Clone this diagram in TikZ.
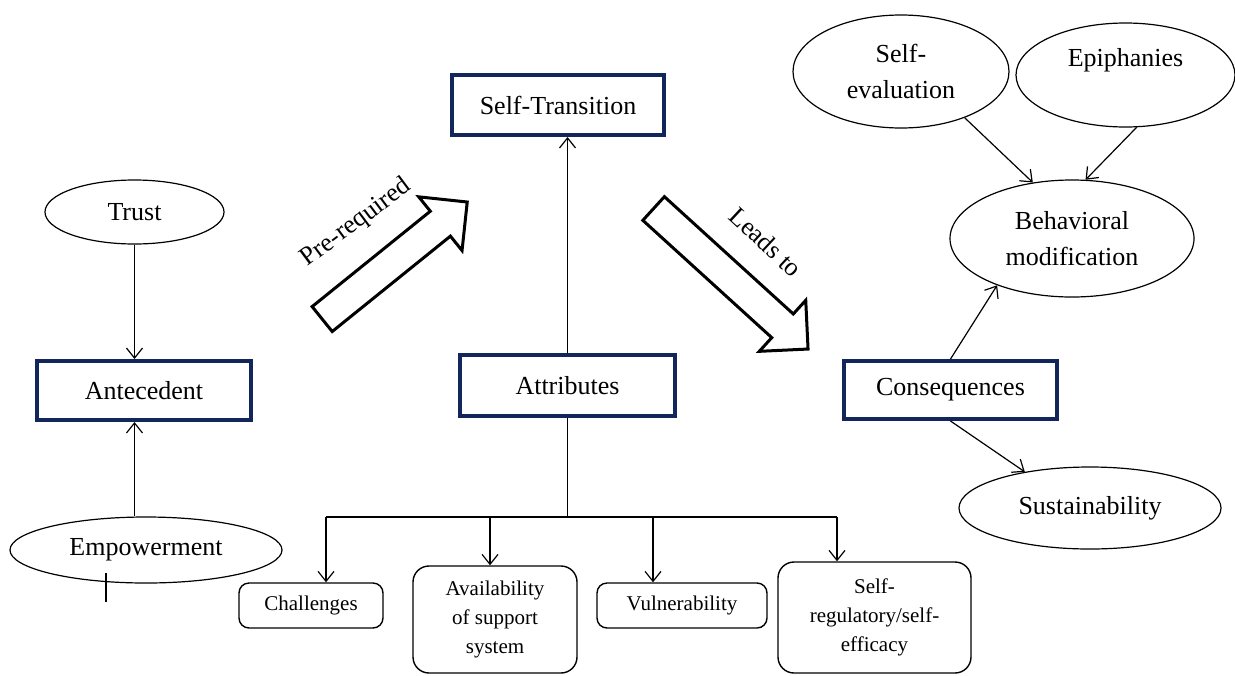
\documentclass[tikz,border=0pt]{standalone}
\usepackage{fontspec}
\setmainfont{Liberation Serif}
\usepackage{tikz}
\usetikzlibrary{shapes,arrows.meta}
\definecolor{framenavy}{RGB}{18,38,92}

\tikzset{
  mainbox/.style={draw=framenavy,line width=2pt,inner sep=2pt,font=\fontsize{13}{18}\selectfont},
  oval/.style={ellipse,draw,line width=0.6pt,inner sep=0pt,align=center,font=\fontsize{13}{18}\selectfont},
  subbox/.style={draw,rounded corners=5pt,line width=0.7pt,inner sep=1pt,align=center,font=\fontsize{10.5}{14.5}\selectfont},
  blockarrow/.style={single arrow,draw,line width=1.5pt,anchor=tail,inner xsep=0pt,inner ysep=7.25pt,
    single arrow head extend=9.25pt,single arrow tip angle=90},
  arrowlabel/.style={font=\fontsize{13}{18}\selectfont,inner sep=0pt},
  link/.style={->,line width=0.6pt}
}

\begin{document}
\begin{tikzpicture}[x=0.5pt,y=-0.5pt,>={Straight Barb[length=5pt,width=8pt]}]
\useasboundingbox (0,0) rectangle (1235,675);

% left column
\node[oval,minimum width=89.5pt,minimum height=32pt] (trust) at (134.5,212) {Trust};
\node[mainbox,minimum width=107pt,minimum height=29.5pt] (antecedent) at (144,390.5) {Antecedent};
\node[oval,minimum width=136pt,minimum height=33pt] (empower) at (146,550) {Empowerment};
\draw[link] (trust.south) -- (trust.south |- antecedent.north);
\draw[link] (trust.south |- empower.north) -- (trust.south |- antecedent.south);
\draw[line width=0.6pt] (106,573) -- (106,602);

% centre column
\node[mainbox,minimum width=106pt,minimum height=30pt] (transition) at (558,105) {Self-Transition};
\node[mainbox,minimum width=107.5pt,minimum height=30.5pt] (attributes) at (567.5,385.5) {Attributes};
\draw[link] (attributes.north) -- (attributes.north |- transition.south);

\node[subbox,minimum width=72pt,minimum height=22.5pt] (challenges) at (311,605.5) {Challenges};
\node[subbox,rounded corners=8pt,minimum width=82pt,minimum height=53.5pt] (support) at (495,619.5) {Availability\\of support\\system};
\node[subbox,minimum width=85pt,minimum height=22.5pt] (vulner) at (682,605.5) {Vulnerability};
\node[subbox,rounded corners=8pt,minimum width=96.5pt,minimum height=55.5pt] (selfreg) at (874.5,617.5) {Self-\\regulatory/self-\\efficacy};

\coordinate (busleft) at (326,517);
\coordinate (busright) at (837,517);
\draw[line width=0.6pt] (attributes.south) -- (attributes.south |- busleft);
\draw[line width=0.6pt] (busleft) -- (busright);
\foreach \x/\target in {326/challenges,490/support,653/vulner,837/selfreg}
  \draw[link] (\x,517) -- (\x,517 |- \target.north);

% block arrows
\node[blockarrow,minimum height=93.2pt,rotate=38.9] (prereq) at (321,320) {};
\node[arrowlabel,rotate=36.7] (prereqtext) at (356,223) {Pre-required};
\node[blockarrow,minimum height=104.4pt,rotate=-42.3] (leadsto) at (652.5,207.5) {};
\node[arrowlabel,rotate=-43] (leadstext) at (766,242) {Leads to};

% right column
\node[oval,minimum width=108pt,minimum height=56.5pt] (selfeval) at (901,71.5) {Self-\\evaluation};
\node[oval,minimum width=109.5pt,minimum height=52pt] (epiph) at (1125.5,75) {Epiphanies\\\mbox{}};
\node[oval,minimum width=122pt,minimum height=58.5pt] (behav) at (1072,238.5) {Behavioral\\modification};
\node[mainbox,minimum width=106.5pt,minimum height=29pt] (conseq) at (950.5,390) {Consequences};
\node[oval,minimum width=131pt,minimum height=41pt] (sustain) at (1090,508) {Sustainability};

\draw[link] (selfeval.-36) -- (behav.125);
\draw[link] (epiph.-78) -- (behav.77);
\draw[link] (conseq.north) -- (behav.-148);
\draw[link] (conseq.south) -- (sustain.151);
\end{tikzpicture}
\end{document}
